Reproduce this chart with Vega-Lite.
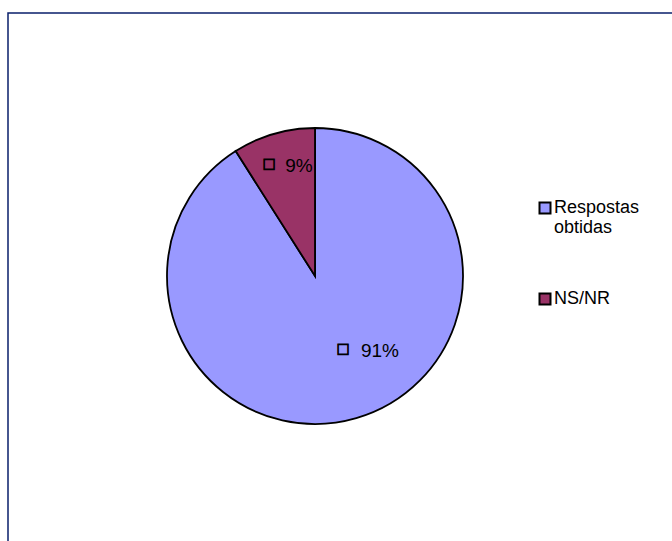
{
  "$schema": "https://vega.github.io/schema/vega-lite/v6.json",
  "width": 700,
  "height": 560,
  "padding": {"left": 8, "top": 13, "right": 0, "bottom": 0},
  "autosize": {"type": "none"},
  "background": "white",
  "view": {"stroke": "#0A1F6B", "strokeWidth": 1.5},
  "config": {
    "font": "Liberation Sans"
  },
  "data": {
    "values": [
      {"categoria": "Respostas obtidas", "percent": 91, "k": 1, "rotulo": "91%"},
      {"categoria": "NS/NR", "percent": 9, "k": 2, "rotulo": "9%"}
    ]
  },
  "transform": [
    {"stack": "percent", "groupby": [], "sort": [{"field": "k", "order": "ascending"}], "as": ["p0", "p1"]}
  ],
  "encoding": {
    "theta": {"field": "p0", "type": "quantitative", "scale": {"domain": [0, 100]}},
    "theta2": {"field": "p1"}
  },
  "layer": [
    {
      "mark": {"type": "arc", "outerRadius": 148, "stroke": "black", "strokeWidth": 1.8, "x": 307, "y": 263},
      "encoding": {
        "color": {
          "field": "categoria",
          "type": "nominal",
          "scale": {"domain": ["Respostas obtidas", "NS/NR"], "range": ["#9999FF", "#993366"]},
          "legend": {
            "title": null,
            "orient": "none",
            "legendX": 528,
            "legendY": 186,
            "symbolType": "square",
            "symbolSize": 121,
            "symbolStrokeColor": "black",
            "symbolStrokeWidth": 2,
            "labelFont": "Liberation Sans",
            "labelFontSize": 18,
            "labelColor": "black",
            "labelOffset": 0,
            "rowPadding": 52,
            "labelExpr": "datum.label == 'Respostas obtidas' ? ['Respostas', 'obtidas'] : datum.label"
          }
        }
      }
    },
    {
      "transform": [{"filter": "datum.k == 2"}],
      "mark": {"type": "text", "radius": 112, "dx": 44, "dy": -15, "x": 307, "y": 263, "font": "Liberation Sans", "fontSize": 19, "color": "black"},
      "encoding": {"text": {"field": "rotulo"}}
    },
    {
      "transform": [{"filter": "datum.k == 2"}],
      "mark": {"type": "text", "radius": 112, "dx": 14, "dy": -17, "x": 307, "y": 263, "font": "DejaVu Sans", "fontWeight": "bold", "fontSize": 14, "color": "black", "stroke": "black", "strokeWidth": 0.8},
      "encoding": {"text": {"value": "□"}}
    },
    {
      "transform": [{"filter": "datum.k == 1"}],
      "mark": {"type": "text", "radius": 0, "dx": 65, "dy": 75, "x": 307, "y": 263, "font": "Liberation Sans", "fontSize": 19, "color": "black"},
      "encoding": {"text": {"field": "rotulo"}}
    },
    {
      "transform": [{"filter": "datum.k == 1"}],
      "mark": {"type": "text", "radius": 0, "dx": 28, "dy": 73, "x": 307, "y": 263, "font": "DejaVu Sans", "fontWeight": "bold", "fontSize": 14, "color": "black", "stroke": "black", "strokeWidth": 0.8},
      "encoding": {"text": {"value": "□"}}
    }
  ]
}
